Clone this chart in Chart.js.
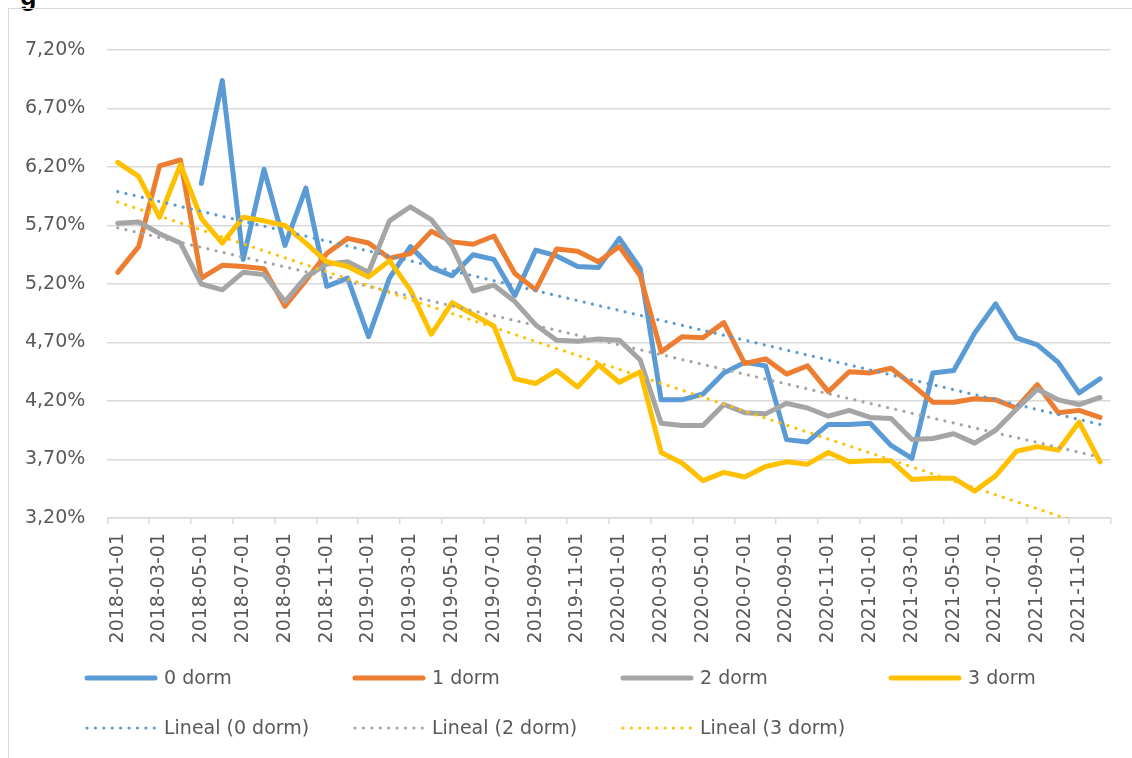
<!DOCTYPE html>
<html>
<head>
<meta charset="utf-8">
<script src="https://cdn.jsdelivr.net/npm/chart.js@4.4.1/dist/chart.umd.min.js"></script>
<style>
  html, body { margin: 0; padding: 0; background: #ffffff; width: 1132px; height: 758px; overflow: hidden; }
  #head { position: absolute; left: 20px; top: -19px; font: bold 27px "Liberation Sans", sans-serif; color: #000; }
  #frame { position: absolute; left: 8px; top: 8px; width: 1300px; height: 900px;
           border-left: 1.5px solid #d9d9d9; border-top: 1.5px solid #d9d9d9; }
  #wrap { position: absolute; left: 0; top: 0; width: 1132px; height: 758px; }
</style>
</head>
<body>
<div id="head">g</div>
<div id="frame"></div>
<div id="wrap"><canvas id="chart"></canvas></div>
<script>
// Monthly categories, Jan 2018 - Dec 2021
const months = [
  '2018-01-01','2018-02-01','2018-03-01','2018-04-01','2018-05-01','2018-06-01',
  '2018-07-01','2018-08-01','2018-09-01','2018-10-01','2018-11-01','2018-12-01',
  '2019-01-01','2019-02-01','2019-03-01','2019-04-01','2019-05-01','2019-06-01',
  '2019-07-01','2019-08-01','2019-09-01','2019-10-01','2019-11-01','2019-12-01',
  '2020-01-01','2020-02-01','2020-03-01','2020-04-01','2020-05-01','2020-06-01',
  '2020-07-01','2020-08-01','2020-09-01','2020-10-01','2020-11-01','2020-12-01',
  '2021-01-01','2021-02-01','2021-03-01','2021-04-01','2021-05-01','2021-06-01',
  '2021-07-01','2021-08-01','2021-09-01','2021-10-01','2021-11-01','2021-12-01'
];

// Rates in percent
const dorm0 = [null, null, null, null, 6.06, 6.94, 5.41, 6.18, 5.53, 6.02, 5.18, 5.25,
               4.75, 5.25, 5.52, 5.34, 5.27, 5.45, 5.41, 5.10, 5.49, 5.44, 5.35, 5.34,
               5.59, 5.33, 4.21, 4.21, 4.26, 4.44, 4.53, 4.50, 3.87, 3.85, 4.00, 4.00,
               4.01, 3.82, 3.71, 4.44, 4.46, 4.78, 5.03, 4.74, 4.68, 4.53, 4.27, 4.39];
const dorm1 = [5.30, 5.52, 6.21, 6.26, 5.25, 5.36, 5.35, 5.33, 5.01, 5.23, 5.46, 5.59,
               5.55, 5.42, 5.46, 5.65, 5.56, 5.54, 5.61, 5.29, 5.15, 5.50, 5.48, 5.39,
               5.52, 5.27, 4.62, 4.75, 4.74, 4.87, 4.52, 4.56, 4.43, 4.50, 4.28, 4.45,
               4.44, 4.48, 4.34, 4.19, 4.19, 4.22, 4.21, 4.14, 4.34, 4.10, 4.12, 4.06];
const dorm2 = [5.72, 5.73, 5.63, 5.55, 5.20, 5.15, 5.30, 5.28, 5.05, 5.26, 5.37, 5.39,
               5.30, 5.74, 5.86, 5.75, 5.52, 5.14, 5.19, 5.05, 4.85, 4.72, 4.71, 4.73,
               4.72, 4.55, 4.01, 3.99, 3.99, 4.17, 4.10, 4.09, 4.18, 4.14, 4.07, 4.12,
               4.06, 4.05, 3.87, 3.88, 3.92, 3.84, 3.95, 4.13, 4.30, 4.21, 4.17, 4.23];
const dorm3 = [6.24, 6.12, 5.77, 6.22, 5.76, 5.55, 5.77, 5.74, 5.70, 5.55, 5.39, 5.35,
               5.26, 5.40, 5.15, 4.77, 5.04, 4.94, 4.84, 4.39, 4.35, 4.46, 4.32, 4.51,
               4.36, 4.45, 3.76, 3.67, 3.52, 3.59, 3.55, 3.64, 3.68, 3.66, 3.76, 3.68,
               3.69, 3.69, 3.53, 3.54, 3.54, 3.43, 3.56, 3.77, 3.81, 3.78, 4.02, 3.68];

// Linear trend lines: value at first and last month
const trend0 = [5.99, 4.00];
const trend2 = [5.68, 3.72];
const trend3 = [5.90, 3.10];

const seriesLabels = ['0 dorm', '1 dorm', '2 dorm', '3 dorm'];
const trendLabels = ['Lineal (0 dorm)', 'Lineal (2 dorm)', 'Lineal (3 dorm)'];

const yTicks = { min: 3.2, max: 7.2, step: 0.5 };

const COLORS = ['#5B9BD5', '#ED7D31', '#A5A5A5', '#FFC000'];
const TEXT = '#595959';
const GRID = '#d9d9d9';
const FAMILY = '"DejaVu Sans", sans-serif';
const FSIZE = 19;

function solid(label, data, color, order) {
  return {
    label, data, borderColor: color, backgroundColor: color,
    borderWidth: 5, borderJoinStyle: 'round', borderCapStyle: 'round',
    pointRadius: 0, pointHoverRadius: 0, tension: 0, spanGaps: false, order
  };
}
function trend(label, ends, color, order) {
  return {
    label,
    data: [{ x: months[0], y: ends[0] }, { x: months[months.length - 1], y: ends[1] }],
    borderColor: color, backgroundColor: color,
    borderWidth: 3.2, borderDash: [0.01, 8.4], borderCapStyle: 'round',
    pointRadius: 0, pointHoverRadius: 0, tension: 0, clip: 0, order
  };
}

const datasets = [
  solid(seriesLabels[0], dorm0, COLORS[0], 10),
  solid(seriesLabels[1], dorm1, COLORS[1], 9),
  solid(seriesLabels[2], dorm2, COLORS[2], 8),
  solid(seriesLabels[3], dorm3, COLORS[3], 7),
  trend(trendLabels[0], trend0, COLORS[0], 3),
  trend(trendLabels[1], trend2, COLORS[2], 2),
  trend(trendLabels[2], trend3, COLORS[3], 1)
];

// Legend laid out as a fixed grid: four columns, series row then trend row
const gridLegend = {
  id: 'gridLegend',
  afterDraw(chart) {
    const ctx = chart.ctx;
    const x0 = 87, colW = 268, rowY = [678, 728], sampleLen = 68;
    chart.data.datasets.forEach((ds, i) => {
      const row = i < 4 ? 0 : 1;
      const col = i < 4 ? i : i - 4;
      const x = x0 + col * colW;
      const y = rowY[row];
      ctx.save();
      ctx.strokeStyle = ds.borderColor;
      ctx.lineWidth = ds.borderWidth;
      ctx.lineCap = 'round';
      ctx.setLineDash(ds.borderDash || []);
      ctx.beginPath();
      ctx.moveTo(x, y);
      ctx.lineTo(x + sampleLen, y);
      ctx.stroke();
      ctx.setLineDash([]);
      ctx.fillStyle = TEXT;
      ctx.font = FSIZE + 'px ' + FAMILY;
      ctx.textBaseline = 'middle';
      ctx.textAlign = 'left';
      ctx.fillText(ds.label, x + 77, y + 1);
      ctx.restore();
    });
  }
};

new Chart(document.getElementById('chart'), {
  type: 'line',
  data: { labels: months, datasets },
  options: {
    responsive: true,
    maintainAspectRatio: false,
    animation: false,
    events: [],
    layout: { padding: { top: 50, right: 15.2, left: 0, bottom: 0 } },
    plugins: { legend: { display: false }, tooltip: { enabled: false } },
    scales: {
      x: {
        offset: true,
        grid: {
          offset: true,
          drawOnChartArea: false,
          drawTicks: true,
          tickLength: 6,
          lineWidth: 1.5,
          color: (c) => ((c.index ?? 0) % 2 === 0 ? GRID : 'rgba(0,0,0,0)')
        },
        border: { display: true, color: GRID, width: 1.5 },
        ticks: {
          autoSkip: false,
          maxRotation: 90,
          minRotation: 90,
          padding: 9,
          color: TEXT,
          font: { family: FAMILY, size: FSIZE },
          callback: (v, i) => (i % 2 === 0 ? months[i] : '')
        },
        afterFit: (s) => { s.height = 240; }
      },
      y: {
        min: yTicks.min,
        max: yTicks.max,
        grid: { color: GRID, lineWidth: 1.5, drawTicks: false },
        border: { display: false },
        ticks: {
          stepSize: yTicks.step,
          padding: 22,
          color: TEXT,
          font: { family: FAMILY, size: FSIZE },
          callback: (v) => v.toFixed(2).replace('.', ',') + '%'
        },
        afterFit: (s) => { s.width = 107.3; }
      }
    }
  },
  plugins: [gridLegend]
});
</script>
</body>
</html>
